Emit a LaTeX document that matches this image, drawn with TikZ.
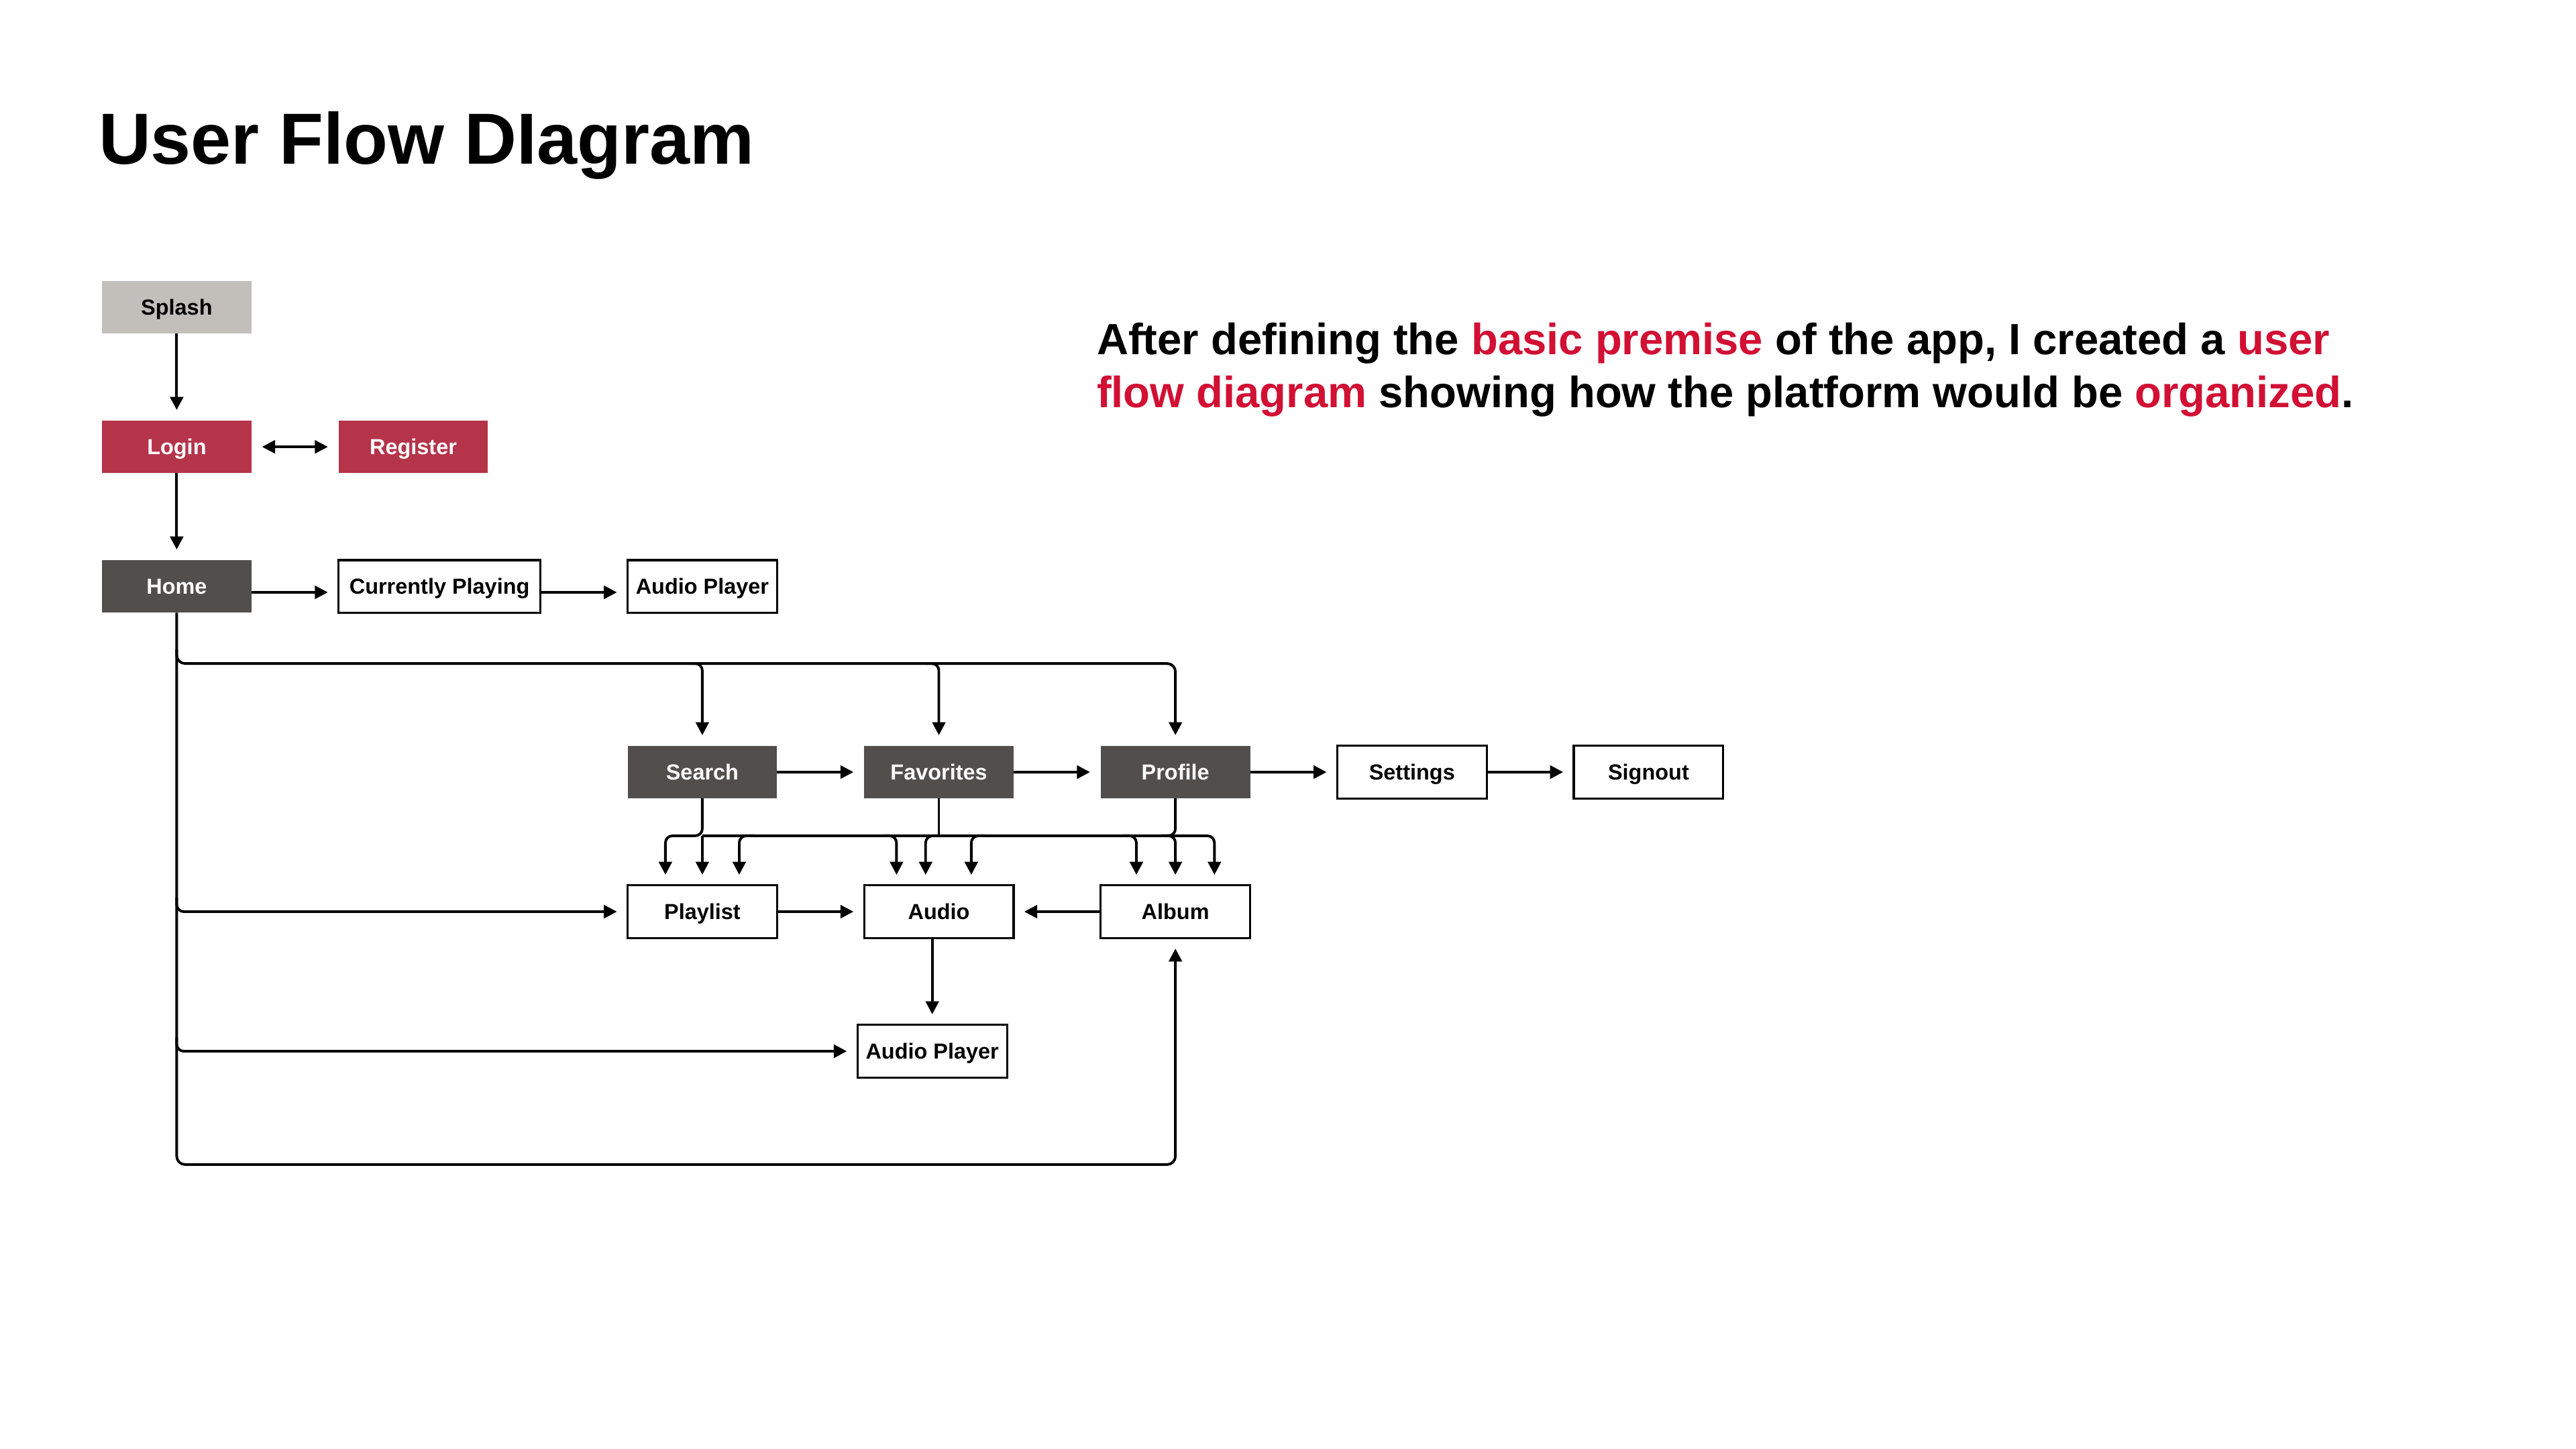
\documentclass[tikz,border=0pt]{standalone}
\usepackage{fontspec}
\setmainfont{Liberation Sans}
\usetikzlibrary{positioning,arrows.meta,calc}
\definecolor{splashgrey}{HTML}{C2BEB9}
\definecolor{authred}{HTML}{B5344A}
\definecolor{navgrey}{HTML}{524E4B}
\definecolor{accent}{HTML}{D11034}

\begin{document}
\begin{tikzpicture}[
    every node/.style={font=\fontsize{9.2}{11}\selectfont\bfseries},
    >={Triangle[length=5.5pt, width=5.5pt]},
    lnk/.style={line width=1.1pt},
    arr/.style={->, lnk, shorten >=4.5pt},
    box/.style={rectangle, minimum width=63.2pt, minimum height=22.2pt,
                inner xsep=2pt, inner ysep=0pt, outer sep=0pt,
                text height=6.6pt, text depth=0pt},
    pagebox/.style={box, draw, line width=0.9pt, fill=white},
    navbox/.style={box, fill=navgrey, text=white},
    node distance=36.8pt,
]
    \useasboundingbox (0,0) rectangle (1089pt,-612.5pt);

    % heading and intro text
    \node[font=\fontsize{30.6}{36}\selectfont\bfseries, anchor=base west,
          inner sep=0pt] (title) at (41.5pt,-69.4pt) {User Flow DIagram};
    \node[font=\fontsize{18.5}{22.2}\selectfont\bfseries, anchor=base west,
          align=left, inner sep=0pt] (intro) at (463.5pt,-172.2pt)
        {After defining the \textcolor{accent}{basic premise} of the app, I created a \textcolor{accent}{user}\\
         \textcolor{accent}{flow diagram} showing how the platform would be \textcolor{accent}{organized}.};

    % entry screens
    \node[box, fill=splashgrey] (splash) at (74.7pt,-129.9pt) {Splash};
    \node[box, fill=authred, text=white, below=of splash] (login) {Login};
    \node[box, fill=authred, text=white, right=of login] (register) {Register};
    \node[navbox, below=of login] (home) {Home};
    \node[pagebox, minimum width=85.4pt, right=of home] (cplay) {Currently Playing};
    \node[pagebox, right=of cplay] (aplay) {Audio Player};

    % main sections
    \node[navbox, below=56.3pt of aplay] (search) {Search};
    \node[navbox, right=of search] (favs) {Favorites};
    \node[navbox, right=of favs] (profile) {Profile};
    \node[pagebox, right=of profile] (settings) {Settings};
    \node[pagebox, right=of settings] (signout) {Signout};

    % content screens
    \node[pagebox, below=of search] (playlist) {Playlist};
    \node[pagebox, below=of favs] (audio) {Audio};
    \node[pagebox, below=of profile] (album) {Album};
    \node[pagebox, below=of audio, xshift=-2.8pt] (aplay2) {Audio Player};

    \coordinate (topbus) at ([yshift=-21.5pt]home.south);
    \coordinate (lowbus) at ($(search.south)!0.43!(playlist.north)$);
    \coordinate (bottomrun) at ([yshift=-36.8pt]aplay2.south);

    % entry flow
    \draw[arr] (splash) -- (login);
    \draw[arr, <->, shorten <=4.5pt] (login) -- (register);
    \draw[arr] (login) -- (home);
    \draw[arr] ([yshift=-2.5pt]home.east) -- ([yshift=-2.5pt]cplay.west);
    \draw[arr] ([yshift=-2.5pt]cplay.east) -- ([yshift=-2.5pt]aplay.west);

    % home trunk and its branches
    \draw[arr, rounded corners=3.5pt] (home.south) |- (album.south |- bottomrun) -- (album.south);
    \draw[arr, rounded corners=3.5pt] ($(home.south |- topbus)+(0,6pt)$) |- (profile.north |- topbus) -- (profile.north);
    \draw[arr, rounded corners=3pt] ($(search.north |- topbus)+(-6pt,0)$) -| (search.north);
    \draw[arr, rounded corners=3pt] ($(favs.north |- topbus)+(-6pt,0)$) -| (favs.north);
    \draw[arr, rounded corners=3pt] ($(home.south |- playlist.west)+(0,6pt)$) |- (playlist.west);
    \draw[arr, rounded corners=3pt] ($(home.south |- aplay2.west)+(0,6pt)$) |- (aplay2.west);

    % section row
    \draw[arr] (search) -- (favs);
    \draw[arr] (favs) -- (profile);
    \draw[arr] (profile) -- (settings);
    \draw[arr] (settings) -- (signout);

    % shared bus from the sections down to the content screens
    \draw[arr, rounded corners=3pt] (search.south) |- ($(playlist.north |- lowbus)+(-15.6pt,0)$) -- ($(playlist.north)+(-15.6pt,0)$);
    \draw[arr, rounded corners=3pt] (search.south |- lowbus) -| ($(album.north)+(16.5pt,0)$);
    \draw[lnk] (favs.south) -- (favs.south |- lowbus);
    \draw[lnk, rounded corners=3pt] (profile.south) |- ($(profile.south |- lowbus)+(-6pt,0)$);
    \draw[arr] (playlist.north |- lowbus) -- (playlist.north);
    \draw[arr, rounded corners=3pt] ($(playlist.north |- lowbus)+(21.6pt,0)$) -| ($(playlist.north)+(15.6pt,0)$);
    \draw[arr, rounded corners=3pt] ($(audio.north |- lowbus)+(-23.9pt,0)$) -| ($(audio.north)+(-17.9pt,0)$);
    \draw[arr, rounded corners=3pt] ($(audio.north |- lowbus)+(0.4pt,0)$) -| ($(audio.north)+(-5.6pt,0)$);
    \draw[arr, rounded corners=3pt] ($(audio.north |- lowbus)+(19.7pt,0)$) -| ($(audio.north)+(13.7pt,0)$);
    \draw[arr, rounded corners=3pt] ($(album.north |- lowbus)+(-22.5pt,0)$) -| ($(album.north)+(-16.5pt,0)$);
    \draw[arr, rounded corners=3pt] ($(album.north |- lowbus)+(-6pt,0)$) -| (album.north);

    % content row
    \draw[arr] (playlist) -- (audio);
    \draw[arr] (album) -- (audio);
    \draw[arr] (audio.south -| aplay2.north) -- (aplay2.north);
\end{tikzpicture}
\end{document}
